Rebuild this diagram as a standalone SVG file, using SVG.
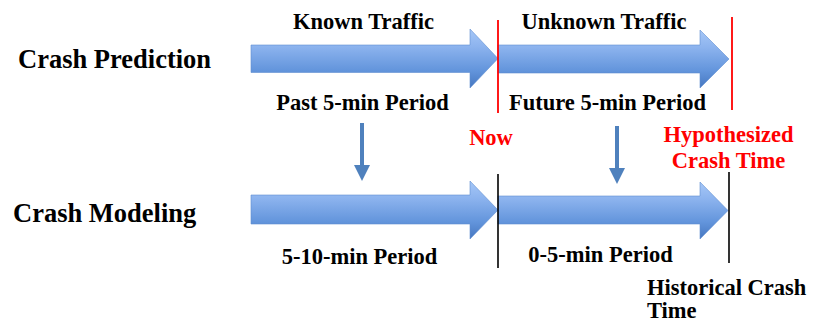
<svg xmlns="http://www.w3.org/2000/svg" width="813" height="325" viewBox="0 0 813 325">
  <defs>
    <linearGradient id="blueGrad" x1="0" y1="0" x2="0" y2="1">
      <stop offset="0" stop-color="#a6c7f7"/>
      <stop offset="0.3" stop-color="#8cb3ee"/>
      <stop offset="0.7" stop-color="#6395dc"/>
      <stop offset="1" stop-color="#4677c0"/>
    </linearGradient>
  </defs>
  <style>
    .lbl { font-family: "Liberation Serif", "Times New Roman", serif; font-weight: bold; font-size: 22.5px; fill: #000; }
    .big { font-family: "Liberation Serif", "Times New Roman", serif; font-weight: bold; font-size: 26.5px; fill: #000; }
    .red { fill: #ff0000; }
    .mid { text-anchor: middle; }
    .arrow { fill: url(#blueGrad); stroke: #5f8fd2; stroke-width: 0.6; }
    .down { fill: #4f81bd; }
    .redline { stroke: #ff0000; stroke-width: 1.8; }
    .blackline { stroke: #000; stroke-width: 1.6; }
  </style>

  <g id="row-labels">
    <text class="big" x="18" y="68">Crash Prediction</text>
    <text class="big" x="13" y="222">Crash Modeling</text>
  </g>

  <g id="known-traffic">
    <path class="arrow" d="M251,45 H470 V29 L498,58.5 L470,88 V72.5 H251 Z"/>
    <text class="lbl mid" x="363.5" y="29">Known Traffic</text>
    <text class="lbl mid" x="362.5" y="110">Past 5-min Period</text>
  </g>

  <g id="unknown-traffic">
    <path class="arrow" d="M498,45 H700 V30 L729,59 L700,88 V73 H498 Z"/>
    <text class="lbl mid" x="604" y="29">Unknown Traffic</text>
    <text class="lbl mid" x="607.5" y="110">Future 5-min Period</text>
  </g>

  <g id="period-5-10">
    <path class="arrow" d="M251,195 H470 V181 L498,210 L470,239 V224 H251 Z"/>
    <text class="lbl mid" x="359.5" y="264">5-10-min Period</text>
  </g>

  <g id="period-0-5">
    <path class="arrow" d="M498,196 H700 V182 L728,210.5 L700,239 V224 H498 Z"/>
    <text class="lbl mid" x="600.5" y="262">0-5-min Period</text>
  </g>

  <g id="now-marker">
    <line class="redline" x1="498" y1="20" x2="498" y2="113"/>
    <text class="lbl red mid" x="491" y="145">Now</text>
  </g>

  <g id="hypothesized-marker">
    <line class="redline" x1="732" y1="17" x2="732" y2="110"/>
    <text class="lbl red mid" x="728.5" y="142">Hypothesized</text>
    <text class="lbl red mid" x="728.5" y="168">Crash Time</text>
  </g>

  <g id="now-modeling-marker">
    <line class="blackline" x1="498" y1="174" x2="498" y2="268"/>
  </g>

  <g id="historical-marker">
    <line class="blackline" x1="729" y1="172" x2="729" y2="263"/>
    <text class="lbl" x="647" y="295">Historical Crash</text>
    <text class="lbl" x="647" y="318">Time</text>
  </g>

  <g id="connectors">
    <rect class="down" x="360" y="123" width="4" height="43"/>
    <polygon class="down" points="354,165 370,165 362,181"/>
    <rect class="down" x="615" y="126" width="4" height="43"/>
    <polygon class="down" points="609,168 625,168 617,184"/>
  </g>
</svg>
